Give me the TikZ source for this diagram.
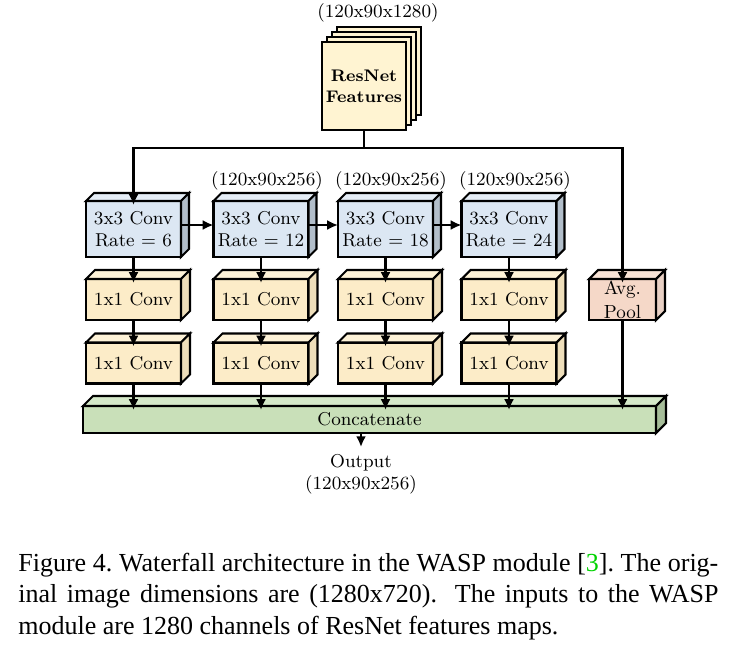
\documentclass[tikz,border=0pt]{standalone}
\usepackage{fontspec}
\newfontfamily\capfont{Liberation Serif}
\usetikzlibrary{positioning, arrows.meta}

\definecolor{convfront}{RGB}{220,231,243}
\definecolor{convtop}{RGB}{229,237,246}
\definecolor{convside}{RGB}{178,190,202}
\definecolor{onefront}{RGB}{252,236,200}
\definecolor{onetop}{RGB}{253,242,215}
\definecolor{oneside}{RGB}{238,222,186}
\definecolor{poolfront}{RGB}{245,216,200}
\definecolor{pooltop}{RGB}{248,227,214}
\definecolor{poolside}{RGB}{232,208,196}
\definecolor{catfront}{RGB}{201,224,185}
\definecolor{cattop}{RGB}{213,233,201}
\definecolor{catside}{RGB}{166,189,153}
\definecolor{pagefill}{RGB}{255,244,210}
\definecolor{citegreen}{RGB}{0,210,0}

% top and side face of a box node: name, depth, top colour, side colour
\newcommand{\boxfaces}[4]{%
  \draw[boxline, fill=#3] (#1.north west) -- ++(#2,-#2) -- ([shift={(#2,-#2)}]#1.north east) -- (#1.north east) -- cycle;
  \draw[boxline, fill=#4] (#1.north east) -- ++(#2,-#2) -- ([shift={(#2,-#2)}]#1.south east) -- (#1.south east) -- cycle;}

\begin{document}
\begin{tikzpicture}[x=0.5pt, y=-0.5pt, >={Latex[length=5.4pt,width=5pt]},
    every node/.style={font=\fontsize{9.3}{11}\selectfont},
    boxline/.style={draw=black, line width=1.05pt, outer sep=0pt},
    conn/.style={->, line width=1.1pt},
    convbox/.style={boxline, fill=convfront, minimum width=47.5pt, minimum height=28pt, inner sep=0pt, align=center},
    onebox/.style={boxline, fill=onefront, minimum width=47.5pt, minimum height=20.5pt, inner sep=0pt},
    poolbox/.style={boxline, fill=poolfront, minimum width=33.5pt, minimum height=20.5pt, inner sep=0pt, align=center},
    catbox/.style={boxline, fill=catfront, minimum width=286.5pt, minimum height=13.5pt, inner sep=0pt},
    page/.style={boxline, fill=pagefill, minimum width=42pt, minimum height=44pt, inner sep=0pt, align=center}]
    \useasboundingbox (0,0) rectangle (737,653);

    % Input features
    \node (inlabel) at (378,13) {(120x90x1280)};
    \foreach \k in {3,2,1}
        \node[page] (page\k) at ({364+5*\k},{86-5*\k}) {};
    \node[page, font=\fontsize{8.4}{10.5}\selectfont\bfseries] (res) at (364,86) {ResNet\\Features};

    \coordinate (split) at (364,148);
    \draw[line width=1.1pt] (res.south) -- (split);

    % Waterfall branches
    \foreach \i/\x/\r in {1/133.5/6, 2/261/12, 3/385.5/18, 4/509/24} {
        \node[convbox] (c\i) at (\x,229) {3x3 Conv\\Rate = \r};
        \boxfaces{c\i}{8}{convtop}{convside}
        \node[onebox] (a\i) at (\x,299.5) {1x1 Conv};
        \boxfaces{a\i}{9}{onetop}{oneside}
        \node[onebox] (b\i) at (\x,363) {1x1 Conv};
        \boxfaces{b\i}{9}{onetop}{oneside}
        \draw[conn, shorten >=-2pt] (c\i.south) -- (a\i.north);
        \draw[conn, shorten >=-2pt] (a\i.south) -- (b\i.north);
    }
    \foreach \i/\x in {2/267, 3/391, 4/515}
        \node (dim\i) at (\x,181) {(120x90x256)};
    \foreach \i/\j in {1/2, 2/3, 3/4}
        \draw[conn] ([yshift=2pt]c\i.east) -- ([yshift=2pt]c\j.west);

    % Image pooling branch
    \node[poolbox, font=\fontsize{9.5}{12.2}\selectfont] (pool) at (622.5,299.5) {Avg.\\Pool};
    \boxfaces{pool}{9}{pooltop}{poolside}

    \draw[conn, shorten >=-2pt] (split) -| (c1.north);
    \draw[conn, shorten >=-2pt] (split) -| (pool.north);

    % Concatenation
    \node[catbox] (cat) at (369.5,419.5) {Concatenate};
    \boxfaces{cat}{10}{cattop}{catside}
    \foreach \i in {1,2,3,4}
        \draw[conn, shorten >=-2pt] (b\i.south) -- (b\i.south |- cat.north);
    \draw[conn, shorten >=-2pt] (pool.south) -- (pool.south |- cat.north);

    \node[align=center] (out) at (361,474) {Output\\(120x90x256)};
    \draw[conn] (out.north |- cat.south) -- (out.north);

    % Caption
    \node[font=\capfont\fontsize{13}{15.6}\selectfont, text width=350pt, align=justify, anchor=north west, inner sep=0pt] (caption) at (18,553)
        {\noindent Figure 4.\ Waterfall architecture in the WASP module [\textcolor{citegreen}{3}].\ The orig-\linebreak
         inal image dimensions are (1280x720).  The inputs to the WASP\linebreak
         module are 1280 channels of ResNet features maps.};
\end{tikzpicture}
\end{document}
